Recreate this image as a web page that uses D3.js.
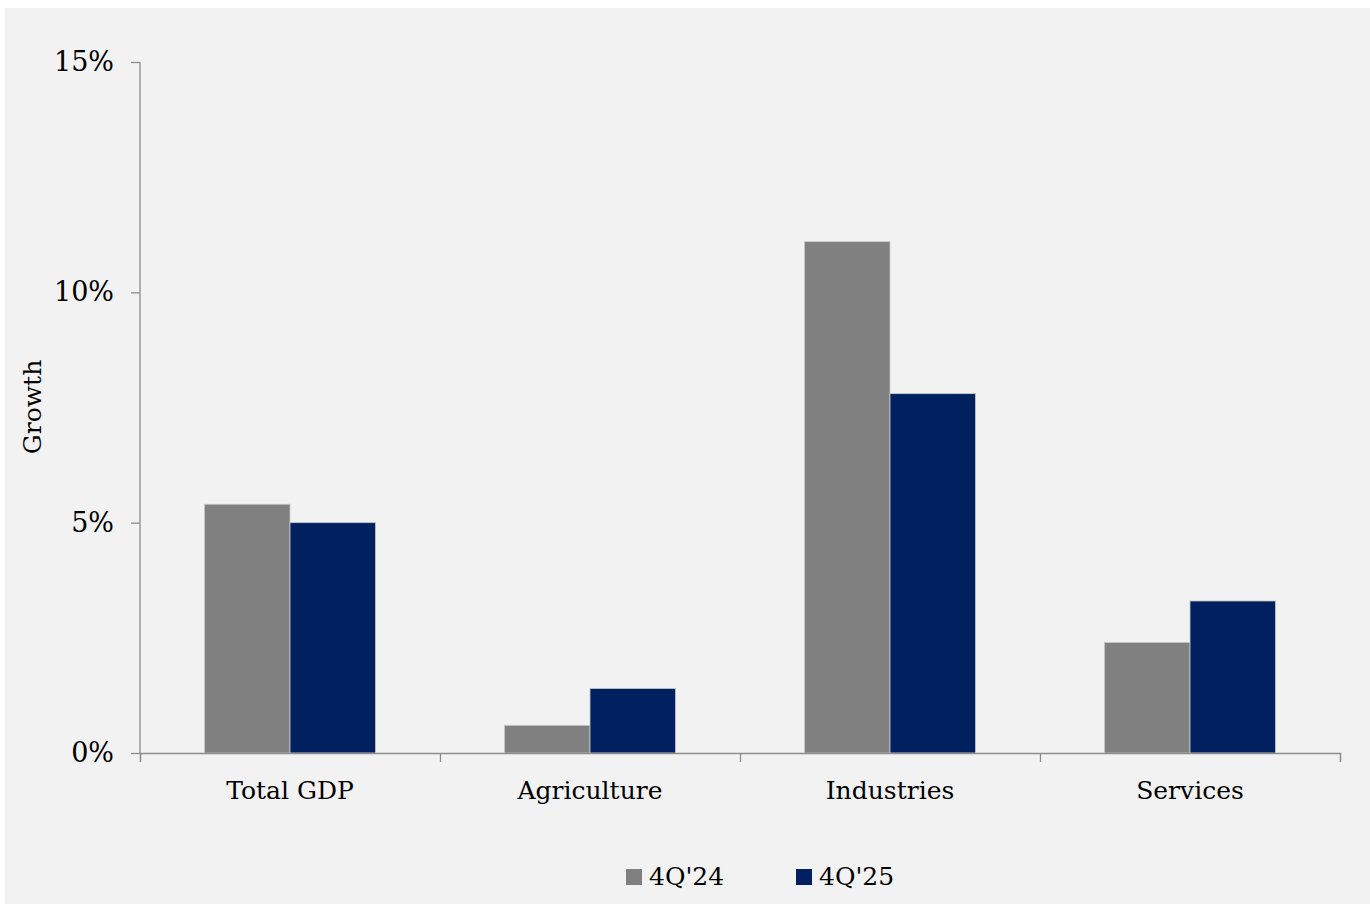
<!DOCTYPE html>
<html>
<head>
<meta charset="utf-8">
<script src="https://cdn.jsdelivr.net/npm/d3@7"></script>
<style>
  body { margin: 0; background: #ffffff; }
  svg { display: block; }
  text { font-family: "DejaVu Serif", "Liberation Serif", serif; fill: #000; }
</style>
</head>
<body>
<svg id="chart"></svg>
<script>
// data
const categories = ["Total GDP", "Agriculture", "Industries", "Services"];
const seriesNames = ["4Q'24", "4Q'25"];
const q4_24 = [5.4, 0.6, 11.1, 2.4];
const q4_25 = [5.0, 1.4, 7.8, 3.3];
const yTicks = [0, 5, 10, 15];

const colors = ["#808080", "#002060"];
const W = 1370, H = 904;
const margin = { top: 62, right: 30, bottom: 151, left: 140 };
const width = W - margin.left - margin.right;
const height = H - margin.top - margin.bottom;

const svg = d3.select("#chart").attr("width", W).attr("height", H);

// gray chart area
svg.append("rect")
   .attr("x", 5).attr("y", 8)
   .attr("width", W - 5).attr("height", H - 8)
   .attr("fill", "#f2f2f2");

const g = svg.append("g").attr("transform", `translate(${margin.left},${margin.top})`);

const x0 = d3.scaleBand().domain(categories).range([0, width]).paddingInner(0.43).paddingOuter(0.215);
const x1 = d3.scaleBand().domain(seriesNames).range([0, x0.bandwidth()]);
const y = d3.scaleLinear().domain([0, 15]).range([height, 0]);

// y axis
const yAxis = g.append("g")
   .call(d3.axisLeft(y).tickValues(yTicks).tickFormat(d => d + "%").tickSize(9).tickPadding(17));
yAxis.selectAll("text").style("font-size", "27px");

// bars
const rows = categories.map((c, i) => ({ cat: c, vals: [q4_24[i], q4_25[i]] }));
g.selectAll(".grp")
  .data(rows)
  .enter()
  .append("g")
  .attr("class", "grp")
  .attr("transform", d => `translate(${x0(d.cat)},0)`)
  .selectAll("rect")
  .data(d => d.vals.map((v, j) => ({ name: seriesNames[j], v: v, j: j })))
  .enter()
  .append("rect")
  .attr("x", d => x1(d.name))
  .attr("y", d => y(d.v))
  .attr("width", x1.bandwidth())
  .attr("height", d => y(0) - y(d.v))
  .attr("fill", d => colors[d.j])
  .attr("stroke", "#c8c8c8")
  .attr("stroke-width", 0.8);

// x axis: ticks at category boundaries
const xb = d3.scaleLinear().domain([0, categories.length]).range([0, width]);
g.append("g")
  .attr("transform", `translate(0,${height})`)
  .call(d3.axisBottom(xb).ticks(categories.length).tickFormat("").tickSize(9).tickSizeOuter(9));

g.selectAll(".xlab")
  .data(categories)
  .enter()
  .append("text")
  .attr("class", "xlab")
  .attr("x", d => x0(d) + x0.bandwidth() / 2)
  .attr("y", height + 46)
  .attr("text-anchor", "middle")
  .style("font-size", "25px")
  .text(d => d);

// axis styling
g.selectAll(".domain, .tick line").attr("stroke", "#8c8c8c").attr("stroke-width", 1.3);
yAxis.select(".domain").attr("d", `M0,${height}V0`);

// y axis title
svg.append("text")
   .attr("transform", "translate(41,407) rotate(-90)")
   .attr("text-anchor", "middle")
   .style("font-size", "25px")
   .text("Growth");

// legend
const legendX = [626, 796];
const legend = svg.selectAll(".leg")
   .data(seriesNames)
   .enter()
   .append("g")
   .attr("class", "leg")
   .attr("transform", (d, i) => `translate(${legendX[i]},869)`);
legend.append("rect").attr("width", 16).attr("height", 16).attr("fill", (d, i) => colors[i]);
legend.append("text").attr("x", 23).attr("y", 16).style("font-size", "25px").text(d => d);
</script>
</body>
</html>
